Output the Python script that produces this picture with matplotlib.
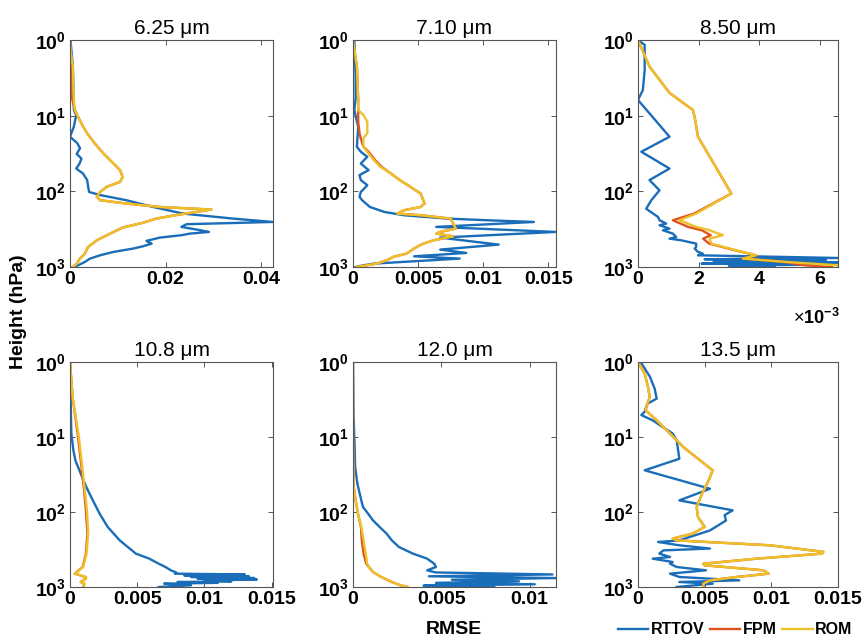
import matplotlib.pyplot as plt
from matplotlib.lines import Line2D
from matplotlib.ticker import FixedLocator, NullLocator

plt.rcParams['font.family'] = ['Liberation Sans', 'DejaVu Sans']
plt.rcParams['mathtext.fontset'] = 'custom'
plt.rcParams['mathtext.rm'] = 'Liberation Sans'
plt.rcParams['mathtext.bf'] = 'Liberation Sans:bold'

# --- 6.25 um ---
p1_rt = [1, 2.25, 6.2, 8.4, 9.8, 14, 19, 23, 27, 32, 37, 43, 50, 58, 71, 87, 102, 112, 131, 161,
         197, 229, 254, 272, 295, 320, 344, 362, 380, 409, 452, 491, 532, 571, 632, 700, 774, 857, 950, 1000]
v1_rt = [0.0001, 0.0006, 0.0008, 0.0008, 0.0013, 0.0008, 0.0, 0.0015, 0.0021, 0.0014, 0.0024, 0.0020, 0.0013,
         0.0027, 0.0036, 0.0038, 0.0040, 0.0063, 0.0118, 0.0174, 0.0237, 0.0341, 0.0425, 0.0244, 0.0233, 0.0265,
         0.0291, 0.0251, 0.0233, 0.0188, 0.0160, 0.0171, 0.0153, 0.0132, 0.0091, 0.0063, 0.0042, 0.0031, 0.0017, 0.0006]
p1_rom = [1, 1.36, 2.25, 3.7, 6.2, 8.4, 9.8, 12.7, 17.2, 23.3, 31.6, 42.9, 52.5, 64.4, 75, 87, 102, 118, 131, 145,
          161, 174, 207, 229, 260, 300, 362, 444, 543, 666, 774, 903, 1000]
v1_rom = [0.0, 0.0001, 0.0006, 0.0007, 0.0008, 0.001, 0.0015, 0.0024, 0.0036, 0.0052, 0.0070, 0.0091, 0.0105,
          0.0110, 0.0105, 0.0077, 0.0063, 0.0056, 0.0063, 0.0118, 0.0188, 0.0296, 0.0220, 0.0181, 0.0153, 0.0111,
          0.0084, 0.0056, 0.0038, 0.0031, 0.0021, 0.0014, 0.0006]
v1_fpm = [0.0, 0.0001, 0.0002, 0.0002, 0.0005, 0.001, 0.0015, 0.0024, 0.0036, 0.0052, 0.0070, 0.0091, 0.0105,
          0.0110, 0.0105, 0.0077, 0.0063, 0.0056, 0.0063, 0.0118, 0.0188, 0.0296, 0.0220, 0.0181, 0.0153, 0.0111,
          0.0084, 0.0056, 0.0038, 0.0031, 0.0021, 0.0014, 0.0006]

# --- 7.10 um ---
p2_rt = [1, 3, 6, 8.4, 14, 25.8, 30, 35, 42.9, 52.5, 61, 71, 83, 102, 118, 131, 161, 187, 207, 229,
         241, 254, 295, 344, 409, 506, 589, 652, 722, 774, 903, 950, 1000]
v2_rt = [0.0001, 0.0002, 0.0002, 0.0001, 0.0004, 0.0003, 0.0006, 0.0011, 0.0006, 0.0012, 0.0005, 0.0006, 0.0011,
         0.0006, 0.0005, 0.0007, 0.0013, 0.0024, 0.0039, 0.0072, 0.0103, 0.0139, 0.0064, 0.0156, 0.0067, 0.0112,
         0.0067, 0.0087, 0.0047, 0.0082, 0.0016, 0.0008, 0.0002]
p2_rom = [1, 2.25, 6.2, 8.4, 9.8, 12, 17, 20, 25.8, 30, 38.7, 47.5, 58, 71, 87, 107, 131, 145, 161, 178,
          197, 207, 229, 267, 311, 344, 362, 393, 409, 444, 491, 543, 601, 666, 736, 815, 903, 1000]
v2_rom = [0.0, 0.0003, 0.0004, 0.0004, 0.0008, 0.0011, 0.0011, 0.0008, 0.0008, 0.0011, 0.0016, 0.0021, 0.0029,
          0.0036, 0.0044, 0.0052, 0.0054, 0.0055, 0.0052, 0.0039, 0.0034, 0.0052, 0.0075, 0.0077, 0.0079, 0.0067,
          0.0064, 0.0077, 0.0072, 0.0062, 0.0054, 0.0049, 0.0045, 0.0041, 0.0031, 0.0026, 0.0018, 0.0003]
v2_fpm = [0.0, 0.0003, 0.0004, 0.0004, 0.0004, 0.0004, 0.0005, 0.0006, 0.0008, 0.0012, 0.0017, 0.0022, 0.0029,
          0.0036, 0.0044, 0.0052, 0.0054, 0.0055, 0.0052, 0.0039, 0.0034, 0.0052, 0.0075, 0.0077, 0.0079, 0.0067,
          0.0064, 0.0077, 0.0072, 0.0062, 0.0054, 0.0049, 0.0045, 0.0041, 0.0031, 0.0026, 0.0018, 0.0003]

# --- 8.50 um ---
p3_rt = [1, 1.16, 2.5, 4.6, 6.2, 19, 30, 50, 71, 97, 131, 170, 218, 241, 267, 281, 311, 327, 362, 401,
         422, 444, 491, 543, 571, 632, 666, 700, 760, 790, 815, 840, 870, 903, 930, 960, 1000]
v3_rt = [0.0, 0.00022, 0.00022, 0.00016, 0.0, 0.00104, 0.00011, 0.00104, 0.00038, 0.00071, 0.00044, 0.00027,
         0.00066, 0.00071, 0.00093, 0.00071, 0.00104, 0.00082, 0.00115, 0.00126, 0.00104, 0.00143, 0.00192,
         0.00192, 0.00187, 0.00198, 0.00214, 0.00198, 0.0066, 0.0022, 0.0062, 0.0025, 0.0066, 0.0021, 0.0058,
         0.0030, 0.0045]
p3_rom = [1, 2.25, 5, 8.4, 10.5, 19, 107, 197, 241, 295, 327, 380, 422, 491, 601, 700, 774, 857, 950, 1000]
v3_rom = [0.0, 0.00038, 0.00104, 0.00181, 0.00187, 0.00198, 0.00308, 0.00192, 0.00137, 0.00192, 0.00236,
          0.0028, 0.00236, 0.00242, 0.00324, 0.0039, 0.00346, 0.00489, 0.0066, 0.0066]
v3_fpm = [0.0, 0.00038, 0.00104, 0.00181, 0.00187, 0.00198, 0.00308, 0.00185, 0.00115, 0.00165, 0.0021,
          0.0024, 0.00215, 0.00235, 0.0032, 0.0039, 0.00346, 0.0048, 0.0055, 0.0064]

# --- 10.8 um ---
p4_rt = [1, 2, 5, 9, 15, 20.5, 30.8, 46, 70, 105, 158, 239, 359, 419, 489, 541, 599, 640, 664, 680,
         699, 720, 735, 760, 774, 795, 815, 840, 858, 880, 903, 950, 1000]
v4_rt = [0.0, 0.00003, 0.00007, 0.0001, 0.00025, 0.0004, 0.0008, 0.0012, 0.0017, 0.0022, 0.0028, 0.0037,
         0.0049, 0.0059, 0.0066, 0.0071, 0.0075, 0.0079, 0.0078, 0.0130, 0.0085, 0.0133, 0.0090, 0.0137,
         0.0095, 0.0139, 0.0100, 0.0120, 0.0080, 0.0110, 0.0070, 0.0090, 0.0066]
p4_rom = [1, 3, 10, 51, 105, 195, 359, 541, 630, 664, 735, 774, 858, 903, 1000]
v4_rom = [0.0, 0.0002, 0.00066, 0.0011, 0.00128, 0.00135, 0.00123, 0.00098, 0.00054, 0.00037, 0.0012,
          0.0012, 0.0008, 0.0011, 0.0010]
v4_fpm = [0.0, 0.0002, 0.0006, 0.00105, 0.0012, 0.0013, 0.00118, 0.00095, 0.0005, 0.00035, 0.00115,
          0.00118, 0.0008, 0.00105, 0.001]

# --- 12.0 um ---
p5_rt = [1, 5, 15, 25, 42, 70, 86, 105, 129, 158, 194, 239, 293, 359, 419, 489, 541, 599, 640, 680,
         720, 760, 800, 840, 880, 920, 960, 1000]
v5_rt = [0.0, 0.00003, 0.0001, 0.00012, 0.00025, 0.00047, 0.00057, 0.00085, 0.00113, 0.0015, 0.0019,
         0.0022, 0.0026, 0.0034, 0.0042, 0.0046, 0.0047, 0.0042, 0.0047, 0.0113, 0.0043, 0.0115, 0.0056,
         0.0094, 0.0047, 0.0103, 0.0040, 0.0080]
p5_rom = [1, 10, 46, 70, 105, 158, 239, 359, 489, 541, 630, 735, 858, 950, 1000]
v5_rom = [0.0, 0.0, 0.00004, 0.00015, 0.00028, 0.00047, 0.0006, 0.00072, 0.0008, 0.00091, 0.00113,
          0.0016, 0.0022, 0.0027, 0.0031]
v5_fpm = [0.0, 0.0, 0.00004, 0.00015, 0.00028, 0.00045, 0.0005, 0.0006, 0.00075, 0.0009, 0.00113,
          0.0016, 0.0022, 0.0027, 0.0031]

# --- 13.5 um ---
p6_rt = [1, 1.58, 2.27, 3.08, 3.6, 4.6, 5.1, 6.0, 9.0, 11, 19.5, 27.8, 49, 70, 95, 110, 130, 176, 239, 251,
         278, 307, 325, 359, 398, 419, 464, 489, 541, 599, 664, 735, 815, 858, 903, 1000]
v6_rt = [0.0002, 0.0009, 0.00125, 0.0014, 0.0007, 0.0005, 0.00025, 0.0011, 0.0026, 0.0029, 0.0031, 0.0005,
         0.0054, 0.0031, 0.0071, 0.0065, 0.0066, 0.0054, 0.0031, 0.0015, 0.0031, 0.0054, 0.0019, 0.0016,
         0.0024, 0.0011, 0.0026, 0.0024, 0.0029, 0.0051, 0.0024, 0.0031, 0.0076, 0.0031, 0.0056, 0.0029]
p6_rom = [1, 1.43, 2.15, 2.93, 3.6, 4.4, 6.0, 9.0, 13.6, 19.5, 27.8, 38, 57, 86, 117, 158, 194, 226, 239,
          278, 340, 359, 419, 489, 514, 599, 664, 735, 815, 903, 1000]
v6_rom = [0.0, 0.0005, 0.00075, 0.00088, 0.0007, 0.00058, 0.0014, 0.0024, 0.0034, 0.0045, 0.0056, 0.0053,
          0.0048, 0.0044, 0.0045, 0.005, 0.0041, 0.0026, 0.0029, 0.0099, 0.0139, 0.0138, 0.0089, 0.0049,
          0.005, 0.0094, 0.0098, 0.0074, 0.0054, 0.0049, 0.0049]
v6_fpm = list(v6_rom)

titles = ['6.25 μm', '7.10 μm', '8.50 μm', '10.8 μm', '12.0 μm', '13.5 μm']
xlims = [0.0425, 0.0156, 0.0066, 0.0151, 0.0115, 0.015]
xticks = [[0, 0.02, 0.04], [0, 0.005, 0.01, 0.015], [0, 0.002, 0.004, 0.006],
          [0, 0.005, 0.01, 0.015], [0, 0.005, 0.01], [0, 0.005, 0.01, 0.015]]
xticklabels = [['0', '0.02', '0.04'], ['0', '0.005', '0.01', '0.015'], ['0', '2', '4', '6'],
               ['0', '0.005', '0.01', '0.015'], ['0', '0.005', '0.01'], ['0', '0.005', '0.01', '0.015']]

panels = [(p1_rt, v1_rt, p1_rom, v1_fpm, v1_rom),
          (p2_rt, v2_rt, p2_rom, v2_fpm, v2_rom),
          (p3_rt, v3_rt, p3_rom, v3_fpm, v3_rom),
          (p4_rt, v4_rt, p4_rom, v4_fpm, v4_rom),
          (p5_rt, v5_rt, p5_rom, v5_fpm, v5_rom),
          (p6_rt, v6_rt, p6_rom, v6_fpm, v6_rom)]

c_rt, c_fpm, c_rom = '#1A6DB8', '#E0531C', '#EEC12A'

W, H = 866, 639
fig = plt.figure(figsize=(W / 100, H / 100), dpi=100)

lefts = [70, 353, 638]
widths = [203, 203, 200]
rows = [(40, 267), (362, 587)]

for i in range(6):
    r, c = divmod(i, 3)
    top, bot = rows[r]
    ax = fig.add_axes([lefts[c] / W, 1 - bot / H, widths[c] / W, (bot - top) / H])
    p_rt, v_rt, p_rom, v_fpm, v_rom = panels[i]
    ax.plot(v_rt, p_rt, color=c_rt, lw=1.7)
    ax.plot(v_fpm, p_rom, color=c_fpm, lw=1.7)
    ax.plot(v_rom, p_rom, color=c_rom, lw=1.7)

    ax.set_yscale('log')
    ax.set_ylim(1000, 1)
    ax.set_xlim(0, xlims[i])
    ax.yaxis.set_major_locator(FixedLocator([1, 10, 100, 1000]))
    ax.yaxis.set_minor_locator(NullLocator())
    ax.set_yticklabels([r'$\mathbf{10^{0}}$', r'$\mathbf{10^{1}}$', r'$\mathbf{10^{2}}$', r'$\mathbf{10^{3}}$'],
                       fontsize=14)
    ax.set_xticks(xticks[i])
    ax.set_xticklabels(xticklabels[i], fontsize=14, fontweight='bold')
    ax.tick_params(direction='in', top=True, right=True, length=3.5, width=0.7, color='#555555', pad=3)
    for s in ax.spines.values():
        s.set_color('#555555')
        s.set_linewidth(0.8)
    ax.set_title(titles[i], fontsize=15, pad=4)

fig.text(840 / W, 1 - 318 / H, r'$\times\mathbf{10^{-3}}$', ha='right', va='center', fontsize=13)
fig.text(19 / W, 1 - 312 / H, 'Height (hPa)', rotation=90, ha='center', va='center',
         fontsize=14, fontweight='bold')
fig.text(454 / W, 1 - 630 / H, 'RMSE', ha='center', va='center', fontsize=14, fontweight='bold')

handles = [Line2D([], [], color=c_rt, lw=1.7), Line2D([], [], color=c_fpm, lw=1.7),
           Line2D([], [], color=c_rom, lw=1.7)]
fig.legend(handles, ['RTTOV', 'FPM', 'ROM'], loc='center left', bbox_to_anchor=(618 / W, 1 - 630 / H),
           ncol=3, frameon=False, prop={'weight': 'bold', 'size': 11.5}, handlelength=1.9,
           handletextpad=0.15, columnspacing=0.35, borderpad=0, borderaxespad=0)

fig.savefig('out.png', dpi=100)
